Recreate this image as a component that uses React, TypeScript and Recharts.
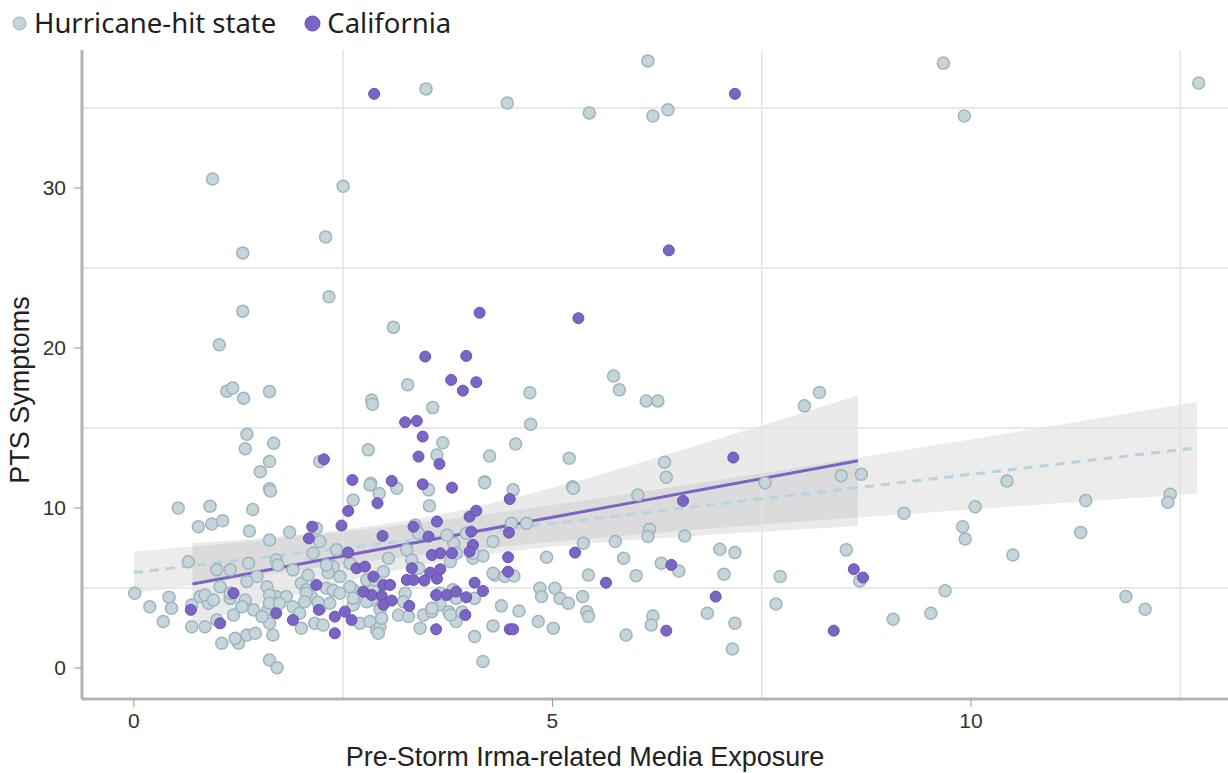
import React from 'react';
import {
  ComposedChart,
  Scatter,
  Line,
  Area,
  XAxis,
  YAxis,
  ReferenceLine,
} from 'recharts';

// [exposure, symptoms]
const hurricanePoints: [number, number][] = [
  [0.94, 30.56], [2.5, 30.1], [2.29, 26.94], [1.3, 25.94], [3.49, 36.19], [4.46, 35.31],
  [5.44, 34.69], [6.14, 37.94], [6.2, 34.5], [6.38, 34.88], [9.67, 37.8], [9.92, 34.5],
  [12.72, 36.56],
  [2.33, 23.2], [1.3, 22.3], [3.1, 21.3], [1.02, 20.2], [1.11, 17.3], [1.18, 17.5],
  [1.31, 16.85], [1.62, 17.27], [2.84, 16.75], [2.85, 16.48], [1.35, 14.6], [1.33, 13.7],
  [1.67, 14.04], [1.62, 12.9], [1.51, 12.27], [2.8, 13.63], [2.22, 12.9], [2.83, 11.54],
  [1.62, 11.2],
  [3.27, 17.7], [3.57, 16.27], [4.73, 17.2], [4.74, 15.23], [5.73, 18.25], [5.8, 17.38],
  [6.12, 16.69], [6.26, 16.69], [3.69, 14.08], [3.62, 13.31], [4.25, 13.25], [4.56, 14.0],
  [5.2, 13.1], [4.19, 11.64], [6.34, 12.86], [6.36, 11.92], [5.24, 11.33],
  [8.01, 16.38], [8.19, 17.21], [6.02, 10.81], [7.54, 11.58], [8.45, 12.02], [8.69, 12.1],
  [10.43, 11.69], [11.37, 10.46], [12.38, 10.86], [12.35, 10.36], [9.2, 9.67], [10.05, 10.08],
  [9.9, 8.83], [9.93, 8.06], [11.31, 8.46], [10.5, 7.06], [6.16, 8.67], [6.14, 8.21],
  [6.58, 8.25], [5.75, 7.9], [5.85, 6.85], [6.3, 6.54], [6.51, 6.06], [6.0, 5.77],
  [7.0, 7.42], [7.18, 7.21], [7.05, 5.86], [7.72, 5.71], [8.51, 7.38], [8.67, 5.44],
  [9.69, 4.83], [7.67, 4.0], [6.85, 3.42], [6.2, 3.25], [6.18, 2.69], [5.88, 2.06],
  [7.18, 2.79], [7.15, 1.19], [9.07, 3.04], [9.52, 3.42], [11.85, 4.46], [12.08, 3.67],
  [0.53, 10.0], [0.91, 10.1], [1.63, 11.06], [1.42, 9.9], [0.77, 8.83], [0.93, 9.0],
  [1.06, 9.2], [1.38, 8.56], [1.86, 8.48], [1.62, 8.0], [0.65, 6.64], [0.01, 4.67],
  [0.19, 3.83], [0.42, 4.42], [0.45, 3.73], [0.35, 2.9], [0.69, 2.58], [0.85, 2.58],
  [0.79, 4.46], [0.89, 4.04], [0.99, 6.13], [1.15, 6.13], [1.37, 6.54], [1.03, 5.08],
  [1.15, 4.35], [1.33, 4.25], [1.43, 3.63], [1.19, 3.31], [0.99, 3.0], [1.05, 1.54],
  [1.25, 1.54], [1.35, 2.06], [1.45, 2.17], [1.66, 2.06], [1.62, 0.5], [1.71, 0.02],
  [1.47, 5.71], [1.59, 5.08], [1.7, 6.75], [1.7, 4.46], [1.6, 3.63], [1.62, 2.79],
  [1.82, 4.46], [1.9, 3.83], [1.9, 6.13], [2.0, 5.29], [2.12, 4.46], [2.0, 2.48],
  [2.16, 2.79], [2.26, 2.69], [2.22, 3.73], [2.34, 4.04], [2.18, 8.73], [2.22, 7.9],
  [2.14, 7.17], [2.42, 7.38], [2.38, 6.33], [2.46, 5.71], [2.3, 4.98], [2.58, 6.54],
  [2.62, 4.88], [2.7, 4.46], [2.78, 5.5], [2.7, 2.79], [2.82, 2.9], [2.9, 2.38],
  [2.62, 10.5], [2.82, 11.44], [2.62, 3.94], [2.06, 4.88], [1.98, 3.42],
  [2.93, 10.9], [3.14, 11.23], [3.52, 11.13], [4.19, 11.58], [4.53, 11.13], [5.25, 11.23],
  [3.53, 10.13], [3.36, 8.94], [3.4, 8.42], [3.26, 7.38], [3.32, 6.75], [3.04, 6.85],
  [2.98, 6.02], [2.86, 4.88], [2.84, 4.25], [2.94, 3.63], [2.94, 2.58], [2.92, 2.17],
  [3.16, 3.31], [3.28, 3.21], [3.42, 2.48], [3.46, 3.31], [3.56, 3.52], [3.66, 3.94],
  [3.76, 3.52], [3.85, 2.9], [3.81, 4.88], [3.66, 4.67], [4.07, 4.35], [3.4, 6.23],
  [3.24, 4.67], [3.78, 6.64], [3.82, 7.79], [3.74, 8.31], [3.97, 8.42], [4.05, 6.85],
  [4.17, 7.0], [4.29, 7.9], [4.51, 9.04], [4.69, 9.04], [4.31, 5.81], [4.43, 5.71],
  [4.54, 5.75], [4.39, 3.88], [4.6, 3.56], [4.29, 2.63], [4.07, 1.96], [4.17, 0.4],
  [4.93, 6.92], [4.85, 4.98], [4.87, 4.46], [5.03, 4.98], [5.09, 4.35], [5.19, 4.04],
  [4.83, 2.9], [5.01, 2.48], [5.37, 7.79], [5.43, 5.81], [5.36, 4.46], [5.41, 3.52],
  [5.43, 3.21],
  [1.72, 6.44], [2.32, 5.95], [1.35, 5.4], [0.85, 4.56], [0.95, 4.25], [1.15, 4.67],
  [0.69, 3.94], [1.29, 3.83], [1.62, 4.56], [1.62, 4.04], [1.74, 4.04], [1.53, 3.21],
  [1.21, 1.85], [2.06, 4.67], [2.04, 4.14], [2.2, 4.1], [2.38, 4.85], [2.46, 4.67],
  [2.62, 4.35], [2.78, 4.14], [2.58, 5.08], [2.08, 5.81], [2.3, 6.44], [3.85, 7.17],
  [4.05, 7.17], [4.29, 5.92], [3.22, 4.14], [3.85, 4.35], [3.78, 3.31], [3.92, 3.5],
  [2.96, 3.1], [2.88, 5.5], [3.56, 3.73],
];

const californiaPoints: [number, number][] = [
  [2.87, 35.88], [7.18, 35.88], [6.39, 26.1],
  [4.13, 22.2], [5.31, 21.86], [3.48, 19.46], [3.97, 19.5], [3.79, 18.0], [4.09, 17.86],
  [3.93, 17.33], [3.24, 15.36], [3.38, 15.44], [3.45, 14.46], [3.4, 13.21], [3.65, 12.75],
  [3.08, 11.69], [3.45, 11.48], [3.8, 11.27], [2.27, 13.04], [2.61, 11.75],
  [2.13, 8.83], [2.09, 8.1], [2.48, 8.9], [2.56, 9.81], [2.91, 10.3], [2.56, 7.21],
  [2.66, 6.23], [2.76, 6.33], [2.86, 5.71], [2.18, 5.19], [1.19, 4.67], [0.68, 3.63],
  [1.03, 2.79], [1.7, 3.42], [1.9, 3.0], [2.21, 3.63], [2.4, 3.21], [2.52, 3.52],
  [2.6, 3.0], [2.4, 2.17], [2.84, 4.56],
  [4.49, 10.56], [4.01, 9.46], [4.09, 9.83], [3.62, 9.15], [3.34, 8.83], [2.97, 8.25],
  [3.52, 8.21], [4.48, 8.46], [4.03, 8.52], [4.05, 7.69], [4.01, 7.27], [3.56, 7.06],
  [3.66, 7.17], [3.8, 7.17], [4.47, 6.92], [3.32, 6.23], [3.54, 5.96], [3.66, 6.17],
  [3.26, 5.5], [3.34, 5.5], [3.47, 5.46], [3.62, 5.58], [2.98, 5.19], [3.06, 5.19],
  [4.07, 5.33], [2.96, 4.5], [3.08, 4.21], [2.98, 3.94], [2.74, 4.77], [3.29, 3.88],
  [3.61, 4.56], [3.74, 4.56], [3.97, 4.42], [4.17, 4.81], [3.85, 4.77], [3.96, 3.31],
  [3.61, 2.42], [4.49, 2.42], [4.53, 2.42], [4.47, 6.02], [5.27, 7.21], [5.64, 5.33],
  [7.16, 13.15], [6.56, 10.44], [6.42, 6.44], [6.95, 4.46], [6.36, 2.33], [8.36, 2.33],
  [8.6, 6.17], [8.71, 5.65],
];

// fitted lines and 95% bands, read at these exposures
const fitX = [0, 0.7, 2, 3, 4, 5, 6, 7, 8.65, 10, 11.3, 12.7];
const hurricaneFit = [5.96, 6.39, 7.19, 7.8, 8.42, 9.03, 9.64, 10.26, 11.27, 12.1, 12.9, 13.76];
const hurricaneLow = [4.65, 5.19, 6.14, 6.79, 7.37, 7.88, 8.33, 8.76, 9.4, 9.91, 10.38, 10.88];
const hurricaneHigh = [7.27, 7.59, 8.24, 8.81, 9.47, 10.18, 10.95, 11.76, 13.14, 14.29, 15.42, 16.64];
const californiaFit = [null, 5.25, 6.51, 7.48, 8.45, 9.42, 10.38, 11.35, 12.95, null, null, null];
const californiaLow = [null, 2.7, 4.66, 5.96, 6.93, 7.57, 8.01, 8.36, 8.85, null, null, null];
const californiaHigh = [null, 7.8, 8.36, 9.0, 9.97, 11.27, 12.75, 14.34, 17.05, null, null, null];

const xTicks = [0, 5, 10];
const yTicks = [0, 10, 20, 30];
const xGrid = [2.5, 7.5, 12.5];
const yGrid = [5, 15, 25, 35];

const seriesNames = ['Hurricane-hit state', 'California'];

const HURRICANE_FILL = '#c4d6db';
const HURRICANE_STROKE = '#9fb5bb';
const CA_FILL = '#7a64c4';
const CA_STROKE = '#6852b4';

const fitData = fitX.map((x, i) => ({
  x,
  hFit: hurricaneFit[i],
  hBand: [hurricaneLow[i], hurricaneHigh[i]],
  cFit: californiaFit[i],
  cBand: californiaLow[i] == null ? null : [californiaLow[i], californiaHigh[i]],
}));

const hurricaneData = hurricanePoints.map(([x, y]) => ({ x, y }));
const californiaData = californiaPoints.map(([x, y]) => ({ x, y }));

const HurricaneDot = (props: any) => (
  <circle cx={props.cx} cy={props.cy} r={6} fill={HURRICANE_FILL} stroke={HURRICANE_STROKE} strokeWidth={1.5} />
);

const CaliforniaDot = (props: any) => (
  <circle cx={props.cx} cy={props.cy} r={5.5} fill={CA_FILL} stroke={CA_STROKE} strokeWidth={1} />
);

const axisFont = '"Liberation Sans", Arial, sans-serif';

const App: React.FC = () => {
  return (
    <div style={{ position: 'absolute', left: 0, top: 0, width: 1228, height: 773, background: '#fff', overflow: 'hidden' }}>
      <div
        style={{
          position: 'absolute',
          left: 11,
          top: 6,
          display: 'flex',
          alignItems: 'center',
          fontFamily: '"Noto Sans", sans-serif',
          fontSize: 27.5,
          color: '#1e1e1e',
          lineHeight: '34px',
        }}
      >
        {seriesNames.map((name, i) => (
          <div key={name} style={{ display: 'flex', alignItems: 'center', marginRight: 28 }}>
            <svg width={17} height={17} style={{ marginRight: 6 }}>
              <circle
                cx={8.5}
                cy={8.5}
                r={i === 0 ? 6.5 : 7.5}
                fill={i === 0 ? HURRICANE_FILL : CA_FILL}
                stroke={i === 0 ? HURRICANE_STROKE : CA_STROKE}
                strokeWidth={1}
              />
            </svg>
            <span>{name}</span>
          </div>
        ))}
      </div>

      <ComposedChart width={1228} height={773} data={fitData} margin={{ top: 50, right: 0, bottom: 0, left: 0 }}>
        {xGrid.map((v) => (
          <ReferenceLine key={`gx${v}`} x={v} stroke="#e2e2e2" strokeWidth={1.5} />
        ))}
        {yGrid.map((v) => (
          <ReferenceLine key={`gy${v}`} y={v} stroke="#e2e2e2" strokeWidth={1.5} />
        ))}
        <XAxis
          type="number"
          dataKey="x"
          domain={[-0.62, 13.07]}
          allowDataOverflow
          ticks={xTicks}
          height={74}
          axisLine={{ stroke: '#b3b3b3', strokeWidth: 3 }}
          tickLine={{ stroke: '#999' }}
          tickSize={8}
          tickMargin={6}
          tick={{ fontSize: 21, fill: '#333', fontFamily: axisFont }}
          label={{
            content: () => (
              <text x={585} y={766} textAnchor="middle" fontSize={27} fill="#222" fontFamily={axisFont}>
                Pre-Storm Irma-related Media Exposure
              </text>
            ),
          }}
        />
        <YAxis
          type="number"
          dataKey="y"
          domain={[-1.94, 38.62]}
          allowDataOverflow
          ticks={yTicks}
          width={82}
          axisLine={{ stroke: '#b3b3b3', strokeWidth: 3 }}
          tickLine={{ stroke: '#999' }}
          tickSize={8}
          tickMargin={8}
          tick={{ fontSize: 21, fill: '#333', fontFamily: axisFont }}
          label={{
            content: () => (
              <text
                x={29}
                y={390}
                textAnchor="middle"
                fontSize={27}
                fill="#222"
                fontFamily={axisFont}
                transform="rotate(-90 29 390)"
              >
                PTS Symptoms
              </text>
            ),
          }}
        />
        <Area
          dataKey="hBand"
          type="monotone"
          stroke="none"
          fill="#a0a0a0"
          fillOpacity={0.2}
          isAnimationActive={false}
          activeDot={false}
        />
        <Area
          dataKey="cBand"
          type="monotone"
          stroke="none"
          fill="#a0a0a0"
          fillOpacity={0.22}
          isAnimationActive={false}
          activeDot={false}
        />
        <Line
          dataKey="hFit"
          type="linear"
          stroke="#b6d3e2"
          strokeWidth={3}
          strokeDasharray="9 7"
          dot={false}
          activeDot={false}
          isAnimationActive={false}
        />
        <Scatter name={seriesNames[0]} data={hurricaneData} shape={HurricaneDot} isAnimationActive={false} />
        <Scatter name={seriesNames[1]} data={californiaData} shape={CaliforniaDot} isAnimationActive={false} />
        <Line
          dataKey="cFit"
          type="linear"
          stroke="#7764c6"
          strokeWidth={3}
          dot={false}
          activeDot={false}
          isAnimationActive={false}
        />
      </ComposedChart>
    </div>
  );
};

export default App;
